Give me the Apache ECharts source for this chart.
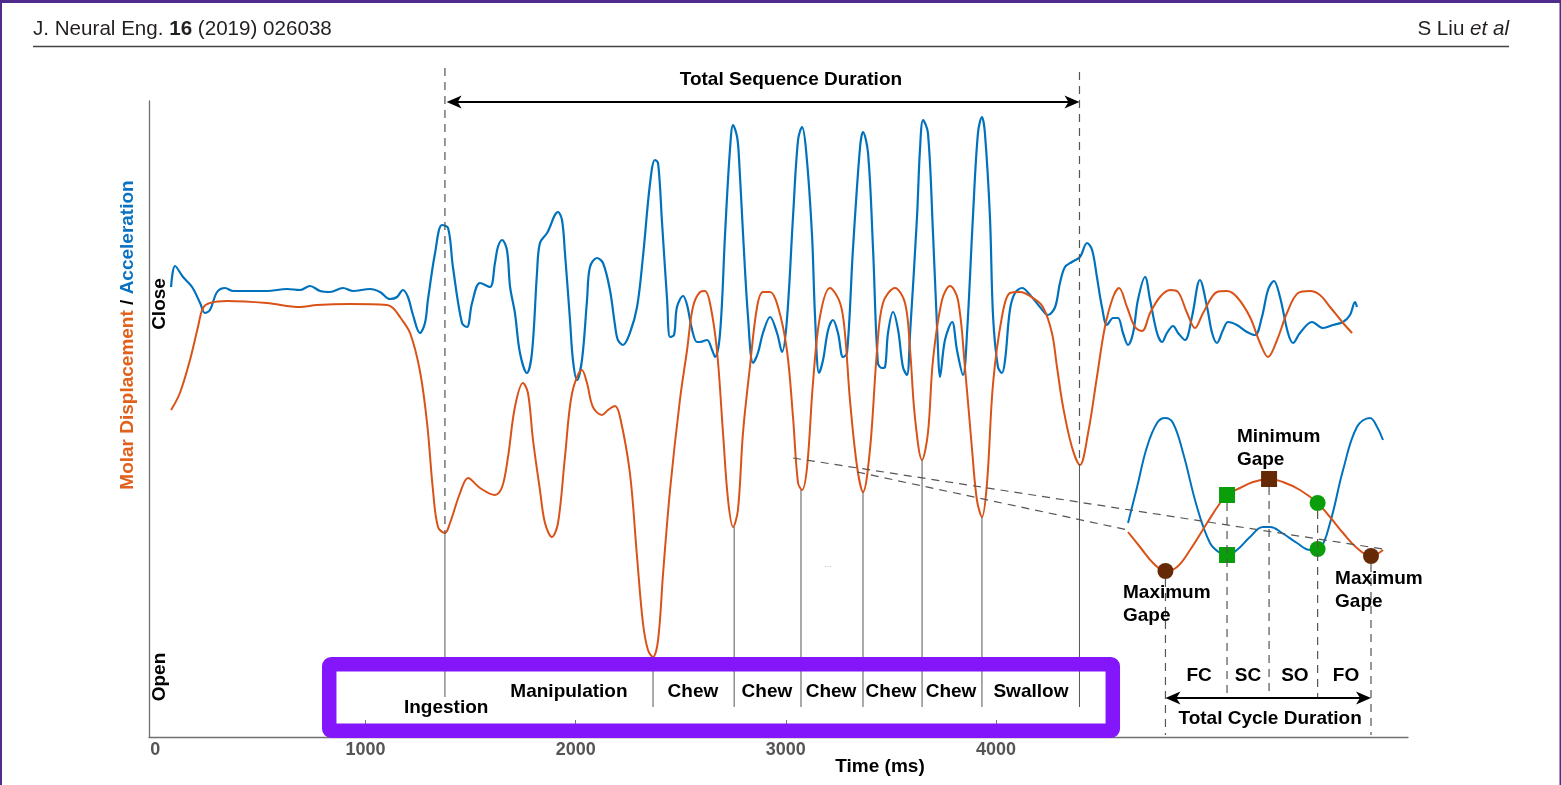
<!DOCTYPE html>
<html><head><meta charset="utf-8">
<script src="https://cdn.jsdelivr.net/npm/echarts@6/dist/echarts.min.js"></script>
<style>html,body{margin:0;padding:0;background:#fff}#c{width:1561px;height:785px}</style>
</head><body><div id="c"></div>
<script>
// ---------- DATA (time in ms, signal in arbitrary units; up = jaw closing) ----------
const tickVals = [0, 1000, 2000, 3000, 4000];

const accelMain = [[75,450],[94,471],[132,460],[175,450],[213,434],[236,424],[260,427],[294,445],[332,449],[370,446],[531,446],[627,448],[688,447],[736,451],[784,446],[831,445],[893,449],[941,446],[1022,448],[1069,445],[1117,438],[1150,440],[1178,447],[1202,440],[1226,422],[1259,404],[1283,414],[1297,437],[1331,484],[1364,512],[1393,509],[1416,470],[1459,414],[1483,410],[1507,434],[1545,454],[1592,450],[1616,474],[1630,490],[1650,497],[1673,487],[1688,450],[1711,424],[1735,384],[1768,364],[1792,384],[1816,464],[1830,494],[1864,504],[1916,525],[1935,517],[1949,484],[1973,417],[1987,377],[2006,357],[2030,377],[2054,437],[2068,470],[2101,479],[2130,474],[2163,447],[2187,412],[2201,397],[2225,392],[2258,404],[2292,430],[2320,480],[2354,554],[2377,577],[2392,574],[2411,514],[2435,437],[2449,400],[2468,402],[2482,430],[2511,441],[2530,432],[2553,408],[2577,395],[2592,395],[2625,397],[2649,387],[2663,380],[2687,404],[2711,504],[2734,587],[2749,612],[2768,600],[2777,579],[2796,504],[2820,420],[2844,374],[2867,384],[2891,404],[2925,420],[2958,404],[2982,385],[3005,417],[3034,520],[3058,597],[3077,610],[3096,587],[3124,504],[3139,420],[3158,364],[3177,377],[3201,407],[3224,417],[3248,404],[3272,380],[3291,384],[3319,487],[3353,590],[3367,605],[3391,584],[3415,487],[3438,374],[3457,369],[3472,370],[3486,404],[3510,425],[3534,407],[3557,370],[3576,362],[3591,404],[3624,520],[3638,587],[3653,617],[3676,604],[3700,504],[3724,387],[3733,360],[3757,397],[3791,415],[3814,387],[3843,362],[3862,404],[3890,520],[3914,604],[3933,620],[3947,604],[3971,520],[3986,420],[4009,370],[4028,364],[4043,377],[4066,427],[4090,444],[4124,449],[4162,442],[4209,430],[4247,422],[4281,430],[4304,454],[4328,470],[4361,475],[4399,480],[4433,494],[4457,487],[4480,460],[4504,430],[4528,412],[4557,419],[4580,419],[4604,404],[4628,392],[4652,404],[4675,437],[4709,460],[4733,437],[4766,404],[4790,395],[4813,404],[4842,411],[4866,404],[4899,397],[4932,420],[4970,457],[5004,430],[5028,404],[5051,394],[5080,407],[5104,415],[5146,412],[5194,405],[5232,402],[5265,420],[5294,447],[5322,456],[5351,440],[5389,404],[5413,394],[5446,404],[5503,415],[5556,409],[5603,412],[5651,415],[5684,422],[5708,435],[5717,430]];

const dispMain = [[75,327],[117,344],[165,377],[203,410],[227,429],[260,434],[341,436],[531,434],[688,430],[769,432],[926,433],[1102,432],[1131,429],[1164,420],[1212,404],[1259,366],[1293,314],[1321,247],[1345,210],[1378,204],[1402,214],[1450,244],[1488,259],[1545,249],[1616,242],[1650,250],[1678,280],[1711,330],[1749,354],[1773,344],[1797,297],[1830,247],[1854,214],[1887,200],[1916,214],[1949,280],[1983,344],[2030,367],[2054,354],[2082,330],[2125,322],[2154,327],[2187,331],[2211,320],[2258,264],[2292,180],[2320,114],[2344,87],[2368,80],[2392,97],[2416,164],[2449,247],[2496,337],[2530,387],[2558,430],[2592,445],[2615,446],[2639,434],[2672,387],[2701,304],[2725,237],[2749,210],[2772,227],[2796,304],[2829,370],[2863,430],[2891,445],[2925,445],[2963,430],[3005,387],[3034,320],[3058,254],[3077,247],[3101,270],[3129,354],[3162,420],[3210,449],[3258,434],[3281,404],[3305,337],[3339,270],[3367,245],[3400,287],[3434,387],[3462,434],[3519,449],[3567,434],[3591,387],[3614,320],[3648,277],[3676,304],[3700,377],[3743,437],[3781,451],[3819,437],[3852,370],[3886,287],[3909,237],[3933,220],[3957,254],[3986,354],[4028,420],[4066,444],[4114,445],[4176,439],[4223,430],[4266,404],[4290,370],[4319,330],[4361,290],[4399,272],[4438,304],[4480,360],[4518,410],[4557,440],[4585,449],[4623,430],[4661,410],[4695,406],[4733,424],[4780,440],[4828,447],[4866,445],[4909,424],[4947,409],[4985,424],[5051,445],[5099,446],[5146,440],[5208,420],[5256,394],[5294,380],[5337,397],[5384,424],[5437,444],[5494,446],[5541,442],[5589,430],[5651,414],[5694,404]];

// single chew cycle, enlarged (inset)
const insetAccel = [[4628,214],[4671,250],[4718,290],[4766,314],[4804,319],[4842,314],[4890,284],[4956,230],[5018,194],[5066,184],[5099,182],[5146,187],[5208,200],[5270,210],[5304,210],[5361,204],[5432,194],[5494,187],[5541,189],[5589,214],[5651,267],[5717,310],[5779,319],[5813,310],[5841,297]];
const insetDisp = [[4628,205],[4685,190],[4747,174],[4806,166],[4861,170],[4923,187],[5004,214],[5066,234],[5099,242],[5161,249],[5223,255],[5299,258],[5365,255],[5446,247],[5530,234],[5589,220],[5651,204],[5717,189],[5784,181],[5841,187]];

const maxGapePts   = [[4806,166],[5784,181]];
const closeStartPts = [[5099,242],[5099,182]];
const minGapePts   = [[5299,258]];
const openStartPts = [[5530,234],[5530,188]];

const phaseNames = ['Ingestion','Manipulation','Chew','Chew','Chew','Chew','Chew','Swallow'];
const eventTimes = [1378, 2368, 2754, 3072, 3367, 3648, 3933, 4397];
const eventMinima = [204, 80, 210, 247, 245, 277, 220, 272];
const cyclePhases = ['FC','SC','SO','FO'];

// ---------- CHART ----------
const FONT = "'Liberation Sans', Arial, Helvetica, sans-serif";
const BLUE = '#0072BD', ORANGE = '#D95319', GREEN = '#0A9E0A', BROWN = '#652905', PURPLE = '#8316FA';
const chart = echarts.init(document.getElementById('c'));

chart.setOption({
  animation: false,
  grid: { left: 149, top: 101, width: 1259, height: 636, containLabel: false, outerBoundsMode: 'none' },
  xAxis: {
    type: 'value', min: -30, max: 5960, splitLine: { show: false },
    axisLine: { onZero: false, lineStyle: { color: '#707070', width: 1.3 } },
    axisTick: { inside: true, length: 17, customValues: tickVals.slice(1), lineStyle: { color: '#777' } },
    axisLabel: { customValues: tickVals, formatter: v => String(v), color: '#555', fontWeight: 'bold', fontSize: 18, fontFamily: FONT, margin: 4 }
  },
  yAxis: {
    type: 'value', min: 0, max: 636, splitLine: { show: false },
    axisLine: { show: true, onZero: false, lineStyle: { color: '#707070', width: 1.3 } },
    axisTick: { show: false }, axisLabel: { show: false }
  },
  series: [
    { type: 'line', data: accelMain, showSymbol: false, symbol: 'none', smooth: 0.35, lineStyle: { color: BLUE, width: 2.2 }, z: 3 },
    { type: 'line', data: dispMain, showSymbol: false, symbol: 'none', smooth: 0.35, lineStyle: { color: ORANGE, width: 2 }, z: 4 },
    { type: 'line', data: insetAccel, showSymbol: false, symbol: 'none', smooth: 0.4, lineStyle: { color: BLUE, width: 2 }, z: 3 },
    { type: 'line', data: insetDisp, showSymbol: false, symbol: 'none', smooth: 0.4, lineStyle: { color: ORANGE, width: 2 }, z: 4 },
    { type: 'scatter', data: maxGapePts, symbol: 'circle', symbolSize: 16, itemStyle: { color: BROWN, opacity: 1 }, z: 6 },
    { type: 'scatter', data: closeStartPts, symbol: 'rect', symbolSize: 16, itemStyle: { color: GREEN, opacity: 1 }, z: 6 },
    { type: 'scatter', data: minGapePts, symbol: 'rect', symbolSize: 16, itemStyle: { color: BROWN, opacity: 1 }, z: 6 },
    { type: 'scatter', data: openStartPts, symbol: 'circle', symbolSize: 16, itemStyle: { color: GREEN, opacity: 1 }, z: 6 }
  ]
});

// ---------- ANNOTATIONS (placed in data coordinates) ----------
function P(t, v) { return chart.convertToPixel({ gridIndex: 0 }, [t, v]); }
const G = [];
const B19 = 'bold 19px ' + FONT;
function seg(a, b, style, z) {
  G.push({ type: 'line', z: z || 10, silent: true, shape: { x1: a[0], y1: a[1], x2: b[0], y2: b[1] },
    style: Object.assign({ stroke: '#555', lineWidth: 1 }, style || {}) });
}
function dashed(a, b) { seg(a, b, { stroke: '#555', lineWidth: 1.2, lineDash: [8, 6] }); }
function txt(p, s, opts) {
  G.push(Object.assign({ type: 'text', z: 20, silent: true, x: p[0], y: p[1],
    style: Object.assign({ text: s, font: B19, fill: '#000', align: 'center', verticalAlign: 'middle' }, (opts && opts.style) || {}) },
    opts && opts.rotation ? { rotation: opts.rotation } : {}));
}
function arrowHead(tip, dir) {
  const L = 15, W = 6.5, N = 4;
  G.push({ type: 'polygon', z: 12, silent: true, shape: { points: [
    [tip[0], tip[1]], [tip[0] - dir * L, tip[1] - W], [tip[0] - dir * (L - N), tip[1]], [tip[0] - dir * L, tip[1] + W]] },
    style: { fill: '#000' } });
}
function dblArrow(a, b) {
  seg([a[0] + 4, a[1]], [b[0] - 4, b[1]], { stroke: '#000', lineWidth: 2 }, 11);
  arrowHead(a, -1); arrowHead(b, 1);
}

// page frame and journal header
G.push({ type: 'rect', z: 30, silent: true, shape: { x: 0, y: 0, width: 1561, height: 3 }, style: { fill: '#4F2C8C' } });
G.push({ type: 'rect', z: 30, silent: true, shape: { x: 0, y: 0, width: 2, height: 785 }, style: { fill: '#4F2C8C' } });
G.push({ type: 'rect', z: 30, silent: true, shape: { x: 1559.5, y: 0, width: 1.5, height: 785 }, style: { fill: '#4F2C8C' } });
txt([33, 29], '{r|J. Neural Eng. }{b|16}{r| (2019) 026038}', { style: { align: 'left', rich: {
  r: { font: '20.6px ' + FONT, fill: '#231F20' }, b: { font: 'bold 20.6px ' + FONT, fill: '#231F20' } } } });
txt([1509, 29], '{r|S Liu }{i|et al}', { style: { align: 'right', rich: {
  r: { font: '20.6px ' + FONT, fill: '#231F20' }, i: { font: 'italic 20.6px ' + FONT, fill: '#231F20' } } } });
seg([33, 46.5], [1509, 46.5], { stroke: '#444', lineWidth: 1.5 });

// axis titles
txt([128, 335], '{o|Molar Displacement} {k|/} {b|Acceleration}', { rotation: Math.PI / 2, style: { rich: {
  o: { font: B19, fill: '#E0601C' }, k: { font: B19, fill: '#000' }, b: { font: B19, fill: '#0B72C2' } } } });
const yl = P(0, 435), yo = P(0, 56);
txt([160, yl[1] + 2], 'Close', { rotation: Math.PI / 2 });
txt([160, yo[1] - 4], 'Open', { rotation: Math.PI / 2 });
txt(P(3448, -30), 'Time (ms)');

// total sequence duration
const seqStart = eventTimes[0], seqEnd = eventTimes[eventTimes.length - 1];
dashed(P(seqStart, 669), P(seqStart, eventMinima[0]));
dashed(P(seqEnd, 665), P(seqEnd, eventMinima[eventMinima.length - 1]));
dblArrow(P(seqStart + 8, 635), P(seqEnd, 635));
txt(P(3024, 657), 'Total Sequence Duration');

// event lines and phase labels
eventTimes.forEach((t, i) => seg(P(t, eventMinima[i]), P(t, i === 0 ? 40 : 30), { stroke: '#555', lineWidth: 1 }));
const labelT = [1384, 1968, 2558, 2910, 3215, 3500, 3786, 4166];
phaseNames.forEach((n, i) => txt(P(labelT[i], i === 0 ? 29 : 45), n));
txt(P(3201, 172), '...', { style: { font: '8px ' + FONT, fill: '#999' } });

// zoom lines to the inset cycle
dashed(P(3034, 279), P(5841, 188));
dashed(P(3339, 265), P(4628, 207));

// cycle sub-phase guides
const cycleMarks = [[maxGapePts[0], 2], [closeStartPts[0], 39], [minGapePts[0], 39], [openStartPts[0], 39], [maxGapePts[1], 2]];
cycleMarks.forEach(([pt, bot]) => dashed(P(pt[0], pt[1] - 8), P(pt[0], bot)));
const phaseT = [4966, 5199, 5422, 5665];
cyclePhases.forEach((n, i) => txt(P(phaseT[i], 61), n));
dblArrow(P(maxGapePts[0][0], 39), P(maxGapePts[1][0], 39));
txt(P(5304, 18), 'Total Cycle Duration');
txt(P(4604, 133), 'Maximum\nGape', { style: { align: 'left', lineHeight: 23 } });
txt(P(5146, 289), 'Minimum\nGape', { style: { align: 'left', lineHeight: 23 } });
txt(P(5613, 147), 'Maximum\nGape', { style: { align: 'left', lineHeight: 23 } });

// highlight box around the phase labels
const b1 = P(793, 80), b2 = P(4590, -1);
const sw = 14.5;
G.push({ type: 'rect', z: 40, silent: true,
  shape: { x: b1[0] + sw / 2, y: b1[1] + sw / 2, width: b2[0] - b1[0] - sw, height: b2[1] - b1[1] - sw, r: 2 },
  style: { fill: 'none', stroke: PURPLE, lineWidth: sw } });

chart.setOption({ graphic: { elements: G } });
</script>
</body></html>
